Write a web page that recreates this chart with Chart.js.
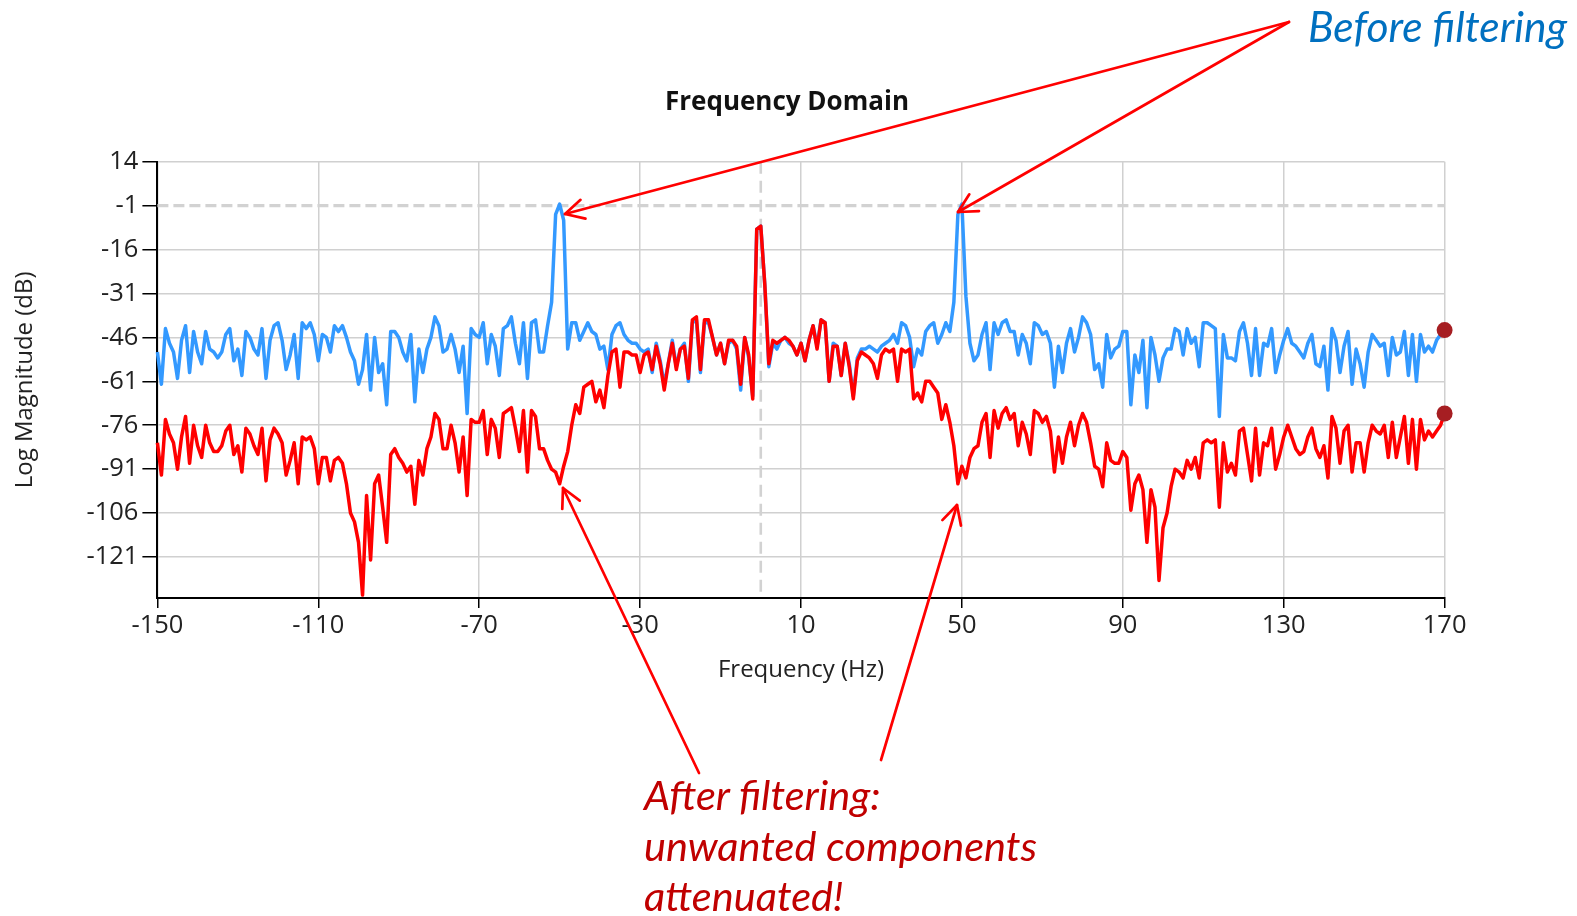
<!DOCTYPE html>
<html>
<head>
<meta charset="utf-8">
<script src="https://cdn.jsdelivr.net/npm/chart.js@4.4.1/dist/chart.umd.min.js"></script>
<style>
html,body{margin:0;padding:0;background:#fff;width:1577px;height:916px;overflow:hidden;position:relative;}
#c{position:absolute;left:0;top:0;}
.note{position:absolute;font-family:Lato,'Open Sans',sans-serif;font-style:italic;white-space:nowrap;}
#before{left:1308px;top:3px;color:#0070C0;font-size:42.5px;line-height:46px;}
#after{left:644px;top:769px;color:#C00000;font-size:41.5px;line-height:50.5px;}
</style>
</head>
<body>
<canvas id="c" width="1577" height="916"></canvas>
<div class="note" id="before">Before filtering</div>
<div class="note" id="after">After filtering:<br>unwanted components<br>attenuated!</div>
<script>
// ---- data ----
const chartTitle = 'Frequency Domain';
const xTitle = 'Frequency (Hz)';
const yTitle = 'Log Magnitude (dB)';
const xTicks = [-150, -110, -70, -30, 10, 50, 90, 130, 170];
const yTicks = [14, -1, -16, -31, -46, -61, -76, -91, -106, -121];
const xMin = -150, xMax = 170, yMin = -135, yMax = 14;
const refLevelDb = -1;     // dashed horizontal reference
const refFreqHz = 0;       // dashed vertical reference
const freqStart = -150;    // first bin (Hz)
const freqStep = 1;        // bin spacing (Hz)

// Before filtering (blue), one value per bin from -150 Hz to 170 Hz
const beforeDb = [
 -51,-62,-43,-48,-51,-60,-47,-42,-58,-44,
 -51,-55,-44,-50,-51,-53,-51,-45,-43,-54,
 -50,-59,-44,-46,-50,-52,-43,-60,-47,-42,
 -41,-47,-57,-52,-45,-60,-41,-43,-41,-45,
 -54,-45,-46,-51,-42,-44,-42,-46,-51,-54,
 -62,-57,-45,-64,-46,-58,-55,-69,-44,-44,
 -46,-51,-54,-45,-68,-50,-58,-50,-46,-39,
 -42,-51,-50,-45,-50,-58,-49,-72,-43,-45,
 -46,-41,-55,-45,-49,-59,-43,-42,-39,-48,
 -55,-41,-60,-41,-40,-51,-51,-42,-34,-4,
 -0.5,-6,-50,-41,-41,-47,-44,-41,-44,-45,
 -50,-49,-57,-45,-42,-41,-45,-47,-48,-48,
 -50,-51,-50,-58,-48,-54,-62,-55,-47,-56,
 -50,-48,-61,-41,-40,-58,-41,-41,-46,-52,
 -48,-55,-48,-47,-50,-64,-46,-53,-66,-9,
 -8,-28,-56,-48,-50,-47,-46,-48,-49,-52,
 -48,-54,-47,-42,-49,-40,-41,-61,-48,-49,
 -59,-48,-55,-66,-53,-50,-50,-49,-50,-51,
 -49,-48,-47,-45,-48,-41,-42,-46,-56,-50,
 -52,-44,-42,-41,-48,-45,-41,-44,-34,-4,
 -0.5,-32,-48,-54,-52,-45,-41,-57,-41,-45,
 -41,-40,-44,-44,-52,-45,-48,-55,-41,-42,
 -45,-44,-48,-63,-49,-58,-48,-43,-51,-46,
 -39,-41,-45,-57,-55,-63,-45,-53,-50,-49,
 -44,-44,-69,-52,-58,-47,-70,-46,-52,-61,
 -53,-50,-50,-43,-44,-52,-43,-48,-46,-56,
 -41,-41,-42,-43,-73,-45,-53,-53,-54,-44,
 -41,-48,-59,-43,-59,-48,-49,-43,-58,-52,
 -47,-43,-48,-49,-51,-53,-48,-45,-55,-56,
 -49,-64,-43,-47,-58,-49,-44,-62,-50,-55,
 -63,-51,-45,-47,-49,-48,-59,-46,-52,-51,
 -44,-59,-45,-61,-45,-51,-49,-51,-47,-45,
 -43.5
];

// After filtering (red)
const afterDb = [
 -82,-93,-74,-79,-82,-91,-80,-73,-89,-76,
 -83,-87,-76,-82,-85,-85,-83,-78,-76,-86,
 -83,-92,-77,-79,-83,-86,-77,-95,-81,-77,
 -79,-82,-93,-88,-82,-96,-80,-81,-80,-84,
 -96,-87,-87,-95,-88,-87,-89,-96,-106,-109,
 -116,-134,-100,-122,-96,-93,-104,-116,-86,-84,
 -87,-89,-92,-90,-103,-88,-93,-84,-80,-72,
 -74,-84,-84,-76,-82,-92,-80,-100,-74,-75,
 -75,-71,-86,-74,-77,-87,-72,-71,-70,-77,
 -85,-71,-92,-71,-73,-84,-84,-88,-91,-92,
 -96,-90,-85,-76,-69,-72,-63,-62,-61,-68,
 -64,-70,-59,-51,-50,-63,-51,-51,-52,-52,
 -58,-52,-51,-57,-49,-55,-64,-55,-48,-57,
 -50,-49,-60,-40,-39,-57,-40,-40,-46,-52,
 -48,-55,-47,-47,-49,-62,-46,-52,-67,-9,
 -8,-28,-55,-47,-48,-47,-46,-47,-49,-52,
 -48,-54,-47,-42,-50,-40,-41,-61,-49,-49,
 -59,-48,-56,-67,-54,-51,-52,-53,-55,-60,
 -52,-50,-51,-50,-61,-50,-51,-50,-67,-65,
 -68,-61,-61,-63,-65,-74,-69,-75,-83,-96,
 -90,-94,-87,-84,-83,-75,-72,-87,-71,-77,
 -72,-70,-74,-72,-83,-75,-79,-86,-71,-72,
 -75,-73,-78,-92,-80,-89,-80,-75,-83,-76,
 -72,-75,-82,-90,-91,-97,-82,-88,-89,-89,
 -85,-87,-105,-96,-93,-98,-116,-98,-104,-129,
 -111,-106,-97,-91,-92,-94,-88,-91,-87,-94,
 -82,-81,-82,-81,-104,-82,-92,-89,-93,-78,
 -77,-86,-95,-77,-93,-82,-83,-77,-91,-86,
 -80,-76,-80,-84,-86,-85,-80,-77,-84,-87,
 -83,-94,-73,-77,-89,-78,-76,-92,-82,-82,
 -92,-82,-76,-78,-79,-76,-87,-75,-87,-80,
 -73,-89,-74,-91,-74,-81,-78,-80,-78,-76,
 -72
];

const freqHz = beforeDb.map((_, i) => freqStart + i * freqStep);
const toPoints = arr => arr.map((v, i) => ({x: freqHz[i], y: v}));

const FONT = "'Open Sans', 'Noto Sans', sans-serif";

const lastDot = c => (c.dataIndex === c.dataset.data.length - 1 ? 8 : 0);

const refLines = {
  id: 'refLines',
  beforeDatasetsDraw(chart) {
    const {ctx, chartArea: a, scales: {x, y}} = chart;
    ctx.save();
    ctx.strokeStyle = '#d2d2d2';
    ctx.setLineDash([11, 5]);
    ctx.lineWidth = 3.2;
    const yy = y.getPixelForValue(refLevelDb);
    ctx.beginPath(); ctx.moveTo(a.left, yy); ctx.lineTo(a.right, yy); ctx.stroke();
    ctx.lineWidth = 2.6;
    ctx.setLineDash([12, 7]);
    const xx = x.getPixelForValue(refFreqHz);
    ctx.beginPath(); ctx.moveTo(xx, a.top); ctx.lineTo(xx, a.bottom); ctx.stroke();
    ctx.restore();
  }
};

function arrow(ctx, x1, y1, x2, y2) {
  ctx.beginPath(); ctx.moveTo(x1, y1); ctx.lineTo(x2, y2); ctx.stroke();
  const ang = Math.atan2(y1 - y2, x1 - x2);
  const L = 21, spread = 0.48;
  ctx.beginPath();
  ctx.moveTo(x2 + L * Math.cos(ang - spread), y2 + L * Math.sin(ang - spread));
  ctx.lineTo(x2, y2);
  ctx.lineTo(x2 + L * Math.cos(ang + spread), y2 + L * Math.sin(ang + spread));
  ctx.stroke();
}

const overlay = {
  id: 'overlay',
  afterDraw(chart) {
    const ctx = chart.ctx;
    ctx.save();
    ctx.fillStyle = '#111';
    ctx.font = "bold 26px " + FONT;
    ctx.textAlign = 'center';
    ctx.textBaseline = 'middle';
    ctx.fillText(chartTitle, 787, 103);
    ctx.strokeStyle = '#ff0000';
    ctx.lineWidth = 2.7;
    ctx.lineCap = 'round';
    ctx.lineJoin = 'round';
    arrow(ctx, 1289, 22, 565, 214);
    arrow(ctx, 1289, 22, 958, 212);
    arrow(ctx, 699, 773, 563, 488);
    arrow(ctx, 881, 760, 957, 505);
    ctx.restore();
  }
};

new Chart(document.getElementById('c'), {
  type: 'line',
  data: {
    datasets: [
      {
        label: 'Before filtering',
        data: toPoints(beforeDb),
        borderColor: '#3399ff',
        borderWidth: 3.5,
        pointRadius: lastDot,
        pointHoverRadius: 0,
        pointBackgroundColor: '#a61e22',
        pointBorderWidth: 0,
        tension: 0,
        borderJoinStyle: 'round',
        clip: false,
        order: 2
      },
      {
        label: 'After filtering',
        data: toPoints(afterDb),
        borderColor: '#ff0000',
        borderWidth: 3.5,
        pointRadius: lastDot,
        pointHoverRadius: 0,
        pointBackgroundColor: '#a61e22',
        pointBorderWidth: 0,
        tension: 0,
        borderJoinStyle: 'round',
        clip: false,
        order: 1
      }
    ]
  },
  options: {
    responsive: false,
    animation: false,
    devicePixelRatio: 1,
    events: [],
    layout: {padding: {left: 0, right: 132.4, top: 161.7, bottom: 0}},
    plugins: {legend: {display: false}, tooltip: {enabled: false}, title: {display: false}},
    scales: {
      x: {
        type: 'linear',
        min: xMin, max: xMax,
        afterBuildTicks: s => { s.ticks = xTicks.map(v => ({value: v})); },
        afterFit: s => { s.height = 318; s.paddingLeft = 0; s.paddingRight = 0; },
        ticks: {
          autoSkip: false, maxRotation: 0, padding: 2,
          color: '#222', font: {family: FONT, size: 25.5},
          callback: v => String(v)
        },
        grid: {color: '#d0d0d0', lineWidth: 1.5, tickColor: '#000', tickLength: 10, tickWidth: 1.5},
        border: {display: true, color: '#000', width: 2},
        title: {display: true, text: xTitle, color: '#222', font: {family: FONT, size: 24}, padding: {top: 0, bottom: 231}}
      },
      y: {
        type: 'linear',
        min: yMin, max: yMax,
        afterBuildTicks: s => { s.ticks = yTicks.map(v => ({value: v})); },
        afterFit: s => { s.width = 157.4; s.paddingTop = 0; s.paddingBottom = 0; },
        ticks: {
          autoSkip: false, padding: 4,
          color: '#222', font: {family: FONT, size: 25.5},
          callback: v => String(v)
        },
        grid: {
          color: c => (c.tick && c.tick.value === refLevelDb ? 'rgba(0,0,0,0)' : '#d0d0d0'),
          lineWidth: 1.5, tickColor: '#000', tickLength: 15, tickWidth: 1.5
        },
        border: {display: true, color: '#000', width: 2},
        title: {display: true, text: yTitle, color: '#222', font: {family: FONT, size: 24}, padding: {top: 11, bottom: 0}}
      }
    }
  },
  plugins: [refLines, overlay]
});
</script>
</body>
</html>
